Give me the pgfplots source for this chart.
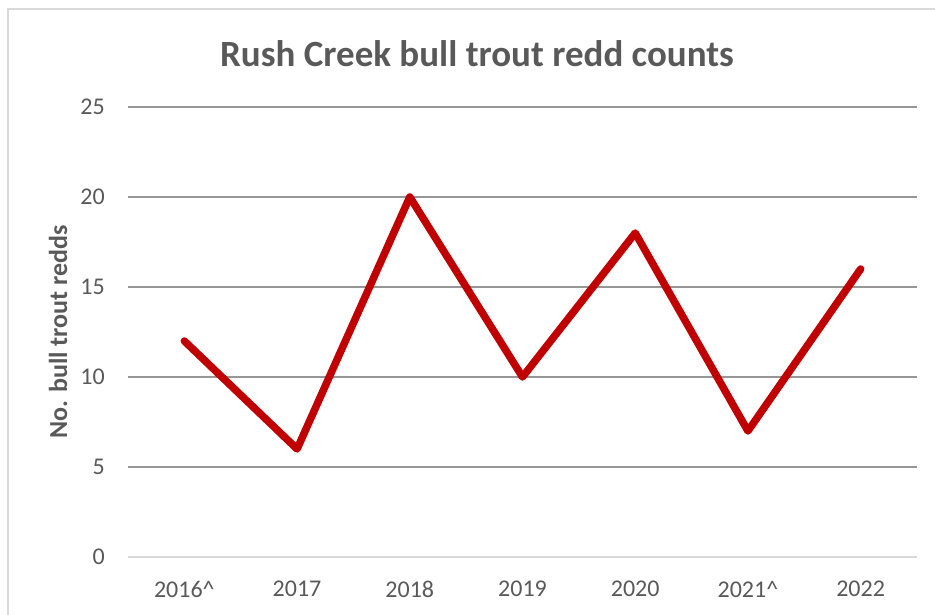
\documentclass[border=0pt]{standalone}
\usepackage{pgfplots}
\pgfplotsset{compat=1.18}
\usepackage{fontspec}
\setmainfont{Carlito}
\definecolor{txt}{HTML}{595959}
\definecolor{grd}{HTML}{969696}
\definecolor{axl}{HTML}{D9D9D9}
\definecolor{redline}{HTML}{C00000}
\begin{document}
\begin{tikzpicture}[x=1pt,y=1pt]
\path[use as bounding box] (0,0) rectangle (935,614);
\draw[axl, line width=2pt] (8,-20) rectangle (960,605);
\begin{axis}[
  at={(128pt,57pt)}, anchor=south west,
  scale only axis, width=789pt, height=450pt,
  xmin=-0.5, xmax=6.5, ymin=0, ymax=25,
  xtick={0,1,2,3,4,5,6},
  xticklabels={2016\textasciicircum,2017,2018,2019,2020,2021\textasciicircum,2022},
  ytick={0,5,10,15,20,25},
  major tick length=0pt,
  axis y line*=left,
  y axis line style={draw=none},
  axis x line*=bottom,
  x axis line style={axl, line width=1.5pt, -},
  ymajorgrids, grid style={grd, line width=1.3pt},
  tick label style={font=\fontsize{24}{27}\selectfont, text=txt},
  /pgf/number format/assume math mode=true,
  xticklabel style={anchor=center, inner sep=0pt, yshift=-32pt},
  yticklabel style={anchor=east, inner sep=0pt, xshift=-23pt},
  title={\textbf{Rush Creek bull trout redd counts}},
  title style={at={(axis description cs:0.4423,1.106)}, anchor=center, font=\fontsize{37}{42}\selectfont, text=txt},
  ylabel={\textbf{No. bull trout redds}},
  ylabel style={at={(axis description cs:-0.0887,0.5)}, anchor=center, font=\fontsize{26}{29}\selectfont, text=txt},
  clip=false,
]
\addplot[redline, line width=7.5pt, line join=round, line cap=round] coordinates {
(0,12) (1,6) (2,20) (3,10) (4,18) (5,7) (6,16)
};
\end{axis}
\end{tikzpicture}
\end{document}
